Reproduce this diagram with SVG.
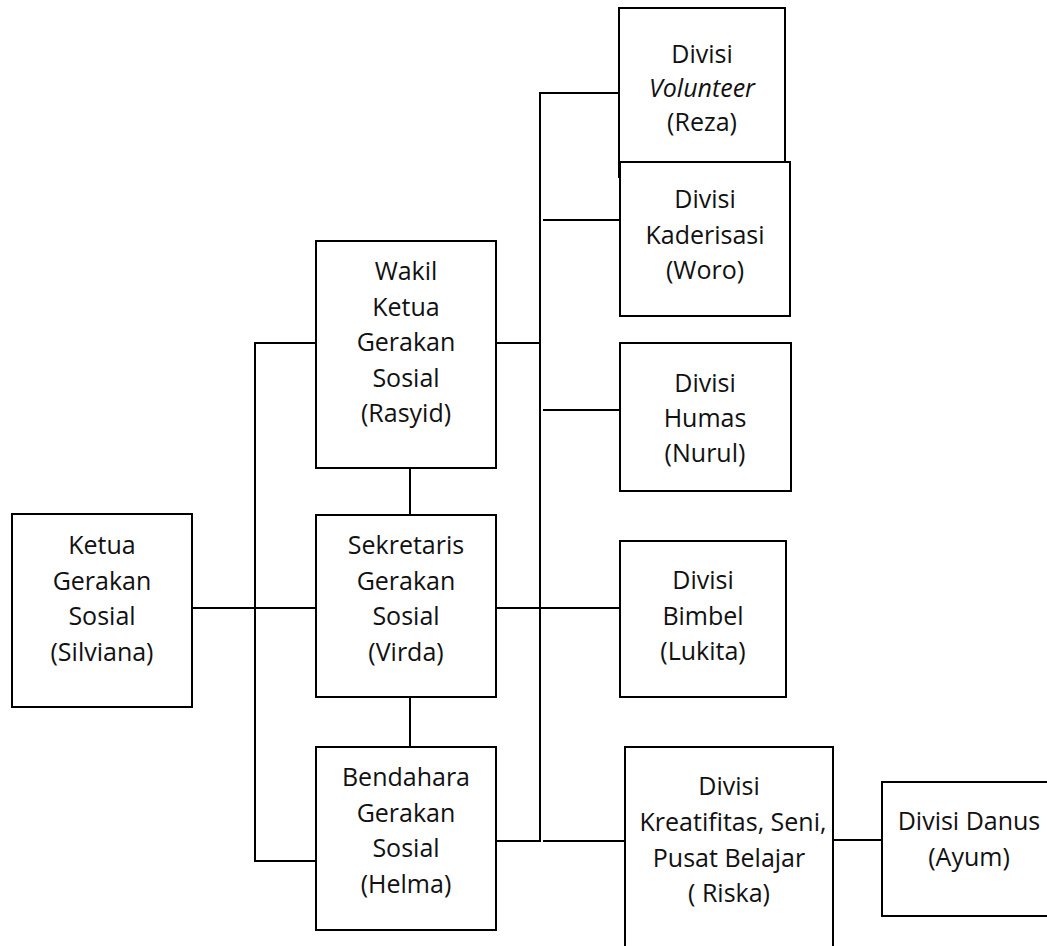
<svg xmlns="http://www.w3.org/2000/svg" width="1047" height="946" viewBox="0 0 1047 946">
<style>
.box{fill:#fff;stroke:#000;stroke-width:2}
.ln{stroke:#000;stroke-width:2;fill:none}
text{font-family:"Open Sans","Liberation Sans",sans-serif;font-size:25px;fill:#111;text-anchor:middle}
</style>
<rect width="1047" height="946" fill="#fff"/>
<g id="connectors">
<line class="ln" x1="255" y1="343" x2="255" y2="861"/>
<line class="ln" x1="254" y1="343" x2="316" y2="343"/>
<line class="ln" x1="192" y1="608" x2="316" y2="608"/>
<line class="ln" x1="254" y1="861" x2="316" y2="861"/>
<line class="ln" x1="410" y1="468" x2="410" y2="515"/>
<line class="ln" x1="410" y1="697" x2="410" y2="747"/>
<line class="ln" x1="540" y1="92" x2="540" y2="842"/>
<line class="ln" x1="496" y1="343" x2="541" y2="343"/>
<line class="ln" x1="496" y1="608" x2="620" y2="608"/>
<line class="ln" x1="496" y1="841" x2="541" y2="841"/>
<line class="ln" x1="543" y1="841" x2="625" y2="841"/>
<line class="ln" x1="539" y1="93" x2="619" y2="93"/>
<line class="ln" x1="543" y1="220" x2="620" y2="220"/>
<line class="ln" x1="543" y1="410" x2="623" y2="410"/>
<line class="ln" x1="833" y1="840" x2="882" y2="840"/>
</g>
<g id="ketua">
<rect class="box" x="12" y="514" width="180" height="193"/>
<text x="102" y="554">Ketua</text>
<text x="102" y="589.5">Gerakan</text>
<text x="102" y="625">Sosial</text>
<text x="102" y="660.5">(Silviana)</text>
</g>
<g id="wakil">
<rect class="box" x="316" y="241" width="180" height="227"/>
<text x="406" y="280">Wakil</text>
<text x="406" y="315.5">Ketua</text>
<text x="406" y="351">Gerakan</text>
<text x="406" y="386.5">Sosial</text>
<text x="406" y="422">(Rasyid)</text>
</g>
<g id="sekretaris">
<rect class="box" x="316" y="515" width="180" height="182"/>
<text x="406" y="554">Sekretaris</text>
<text x="406" y="589.5">Gerakan</text>
<text x="406" y="625">Sosial</text>
<text x="406" y="660.5">(Virda)</text>
</g>
<g id="bendahara">
<rect class="box" x="316" y="747" width="180" height="183"/>
<text x="406" y="786">Bendahara</text>
<text x="406" y="821.5">Gerakan</text>
<text x="406" y="857">Sosial</text>
<text x="406" y="892.5">(Helma)</text>
</g>
<g id="volunteer">
<rect class="box" x="619" y="8" width="166" height="169"/>
<text x="702" y="63">Divisi</text>
<text x="702" y="97" font-style="italic">Volunteer</text>
<text x="702" y="131">(Reza)</text>
</g>
<g id="kaderisasi">
<rect class="box" x="620" y="162" width="170" height="154"/>
<text x="705" y="208">Divisi</text>
<text x="705" y="244">Kaderisasi</text>
<text x="705" y="279">(Woro)</text>
</g>
<g id="humas">
<rect class="box" x="620" y="343" width="171" height="148"/>
<text x="705" y="392">Divisi</text>
<text x="705" y="427">Humas</text>
<text x="705" y="462">(Nurul)</text>
</g>
<g id="bimbel">
<rect class="box" x="620" y="541" width="166" height="156"/>
<text x="703" y="589">Divisi</text>
<text x="703" y="625">Bimbel</text>
<text x="703" y="660">(Lukita)</text>
</g>
<g id="kreatifitas">
<rect class="box" x="625" y="747" width="208" height="220"/>
<text x="729" y="795">Divisi</text>
<text x="733" y="831">Kreatifitas, Seni,</text>
<text x="729" y="867">Pusat Belajar</text>
<text x="729" y="902">( Riska)</text>
</g>
<g id="danus">
<rect class="box" x="882" y="782" width="180" height="134"/>
<text x="969" y="830">Divisi Danus</text>
<text x="969" y="866">(Ayum)</text>
</g>
</svg>
